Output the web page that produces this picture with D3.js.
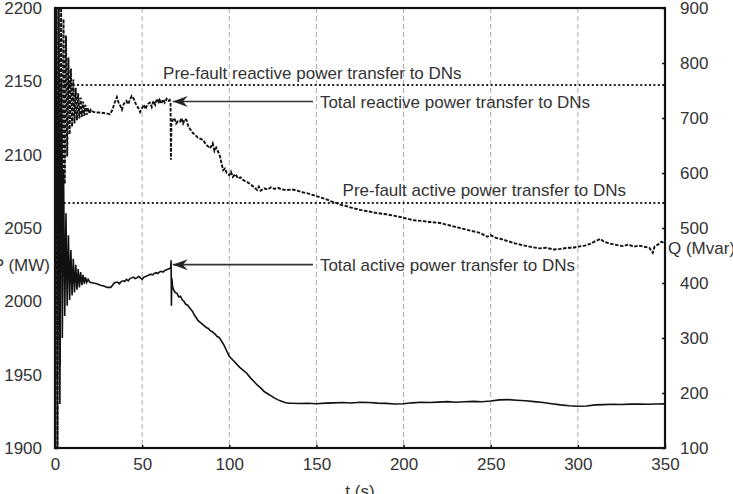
<!DOCTYPE html>
<html>
<head>
<meta charset="utf-8">
<script src="https://cdn.jsdelivr.net/npm/d3@7"></script>
<style>
  body { margin: 0; background: #fff; }
  svg { display: block; font-family: "Liberation Sans", Arial, sans-serif; }
</style>
</head>
<body>
<svg id="chart" width="733" height="494"></svg>
<script>
// time ticks and axis ticks
const tTicks = [0, 50, 100, 150, 200, 250, 300, 350];
const pTicks = [1900, 1950, 2000, 2050, 2100, 2150, 2200];
const qTicks = [100, 200, 300, 400, 500, 600, 700, 800, 900];

// pre-fault reference levels
const pPreFault = 2067;
const qPreFault = 760;

// total active power (MW)
const pTime = [0, 0.7, 1.4, 2.1, 2.8, 3.5, 4.2, 4.9, 5.6, 6.3, 7, 7.7, 8.4, 9.1, 9.8, 10.5, 11.2, 11.9, 12.6, 13.3,
  14, 14.7, 15.4, 16.1, 16.8, 17.5, 18.2, 19, 20, 22, 24, 26, 28, 30, 32, 33, 34, 35, 36, 37, 38, 39, 40, 41, 42, 43,
  44, 45, 46, 47, 48, 49, 50, 51, 52, 53, 54, 55, 56, 57, 58, 59, 60, 61, 62, 63, 64, 65, 66, 66.4, 66.6, 66.8, 67,
  67.5, 68, 69, 70, 71, 72, 73, 74, 75, 76, 77, 78, 79, 80, 81, 82, 83, 84, 85, 86, 87, 88, 89, 90, 91, 92, 93, 94,
  95, 96, 97, 98, 99, 100, 102, 104, 106, 108, 110, 112, 114, 116, 118, 120, 122, 124, 126, 128, 130, 132, 134, 136,
  140, 145, 150, 155, 160, 165, 170, 175, 180, 185, 190, 195, 200, 205, 210, 215, 220, 225, 230, 235, 240, 245, 250,
  255, 260, 265, 270, 275, 280, 285, 290, 295, 300, 305, 310, 315, 320, 325, 330, 335, 340, 345, 350];
const pValue = [2050, 2240, 1880, 2220, 1930, 2150, 1975, 2090, 1990, 2060, 1997, 2045, 2001, 2035, 2004, 2029, 2006,
  2025, 2008, 2022, 2009.5, 2020, 2011, 2018, 2012, 2016.5, 2013, 2015, 2013, 2012.5, 2012, 2011, 2010.5, 2009.5,
  2009.5, 2011, 2012.5, 2013, 2013, 2012, 2013.5, 2014, 2013.5, 2015, 2014, 2015.5, 2016, 2016.5, 2015.5, 2016, 2017,
  2016, 2015, 2016.5, 2017, 2017.5, 2018, 2018.5, 2018, 2019, 2019.5, 2019, 2020, 2020.5, 2020, 2021, 2021.5, 2022,
  2022.5, 2023, 2028, 1997, 2016, 2010, 2008, 2006, 2005.5, 2003, 2003.5, 2001, 2000, 1998, 1997.5, 1996, 1994.5,
  1993, 1990.5, 1989, 1987, 1986, 1985, 1984, 1983, 1982, 1981.5, 1980, 1979.5, 1978.5, 1977.5, 1976, 1975.5, 1974,
  1972, 1970, 1967.5, 1965, 1962.5, 1960, 1957.5, 1955, 1953, 1951, 1948, 1945.5, 1943, 1941, 1938.5, 1937, 1935.5,
  1934, 1932.8, 1931.8, 1931, 1930.5, 1930.5, 1930.3, 1930.5, 1930.2, 1930.6, 1930.8, 1931, 1930.7, 1931.2, 1931,
  1930.6, 1930.4, 1930, 1930.2, 1930.8, 1931.2, 1931, 1931.3, 1931.6, 1931.2, 1931.5, 1931.8, 1931.5, 1932, 1932.8,
  1933, 1932.6, 1932.2, 1931.6, 1931, 1930.2, 1929.4, 1928.8, 1928.5, 1928.6, 1929.4, 1929.6, 1929.8, 1929.7, 1929.9,
  1930, 1929.8, 1930, 1930.1];

// total reactive power (Mvar)
const qTime = [0, 0.7, 1.4, 2.1, 2.8, 3.5, 4.2, 4.9, 5.6, 6.3, 7, 7.7, 8.4, 9.1, 9.8, 10.5, 11.2, 11.9, 12.6, 13.3,
  14, 14.7, 15.4, 16.1, 16.8, 17.5, 18.2, 19, 19.8, 20.6, 22, 24, 26, 28, 30, 31.5, 33, 34, 35.5, 36.5, 37.5, 38.4,
  39.5, 41, 42, 43, 44, 45, 46, 47, 48, 48.8, 50, 51, 52, 53, 54.5, 55.5, 56.5, 57.5, 58.5, 59.5, 60, 61, 62, 63, 64,
  65, 65.8, 66.3, 66.5, 66.8, 67.5, 68.5, 69.5, 70.5, 71.7, 72.5, 73.5, 74.5, 75.5, 76.5, 77.5, 79, 80.5, 82, 83.5,
  85, 86.5, 88, 89, 90.5, 91.5, 92.5, 93.7, 94.7, 95.5, 96.5, 97.5, 98.5, 100, 101, 102, 103.5, 105, 106.5, 108, 110,
  112, 113.5, 115, 116, 117, 118, 120, 122, 124, 126, 128, 130, 133, 136, 139, 142, 145, 148, 152, 155, 158, 161, 164,
  167, 170, 175, 180, 185, 190, 195, 198, 202, 206, 210, 215, 221, 226, 231, 236, 240, 244, 248, 250, 253, 256, 260,
  264, 268, 271, 274, 278, 282, 286, 290, 294, 297, 300, 304, 307, 310, 313, 315, 318, 321, 324, 326, 329, 332, 335,
  338, 341, 343, 344, 346, 348, 350];
const qValue = [500, 920, 100, 920, 250, 910, 450, 880, 580, 850, 630, 810, 670, 790, 684, 770, 690, 755, 696, 745,
  699, 737, 702, 730, 704, 724, 706, 718, 708, 715, 711, 710, 710, 709, 708, 707, 715, 726, 738, 728, 722, 715, 726,
  731, 725, 733, 740, 736, 728, 722, 717, 711, 718, 724, 716, 725, 728, 720, 731, 724, 735, 729, 733, 726, 734, 728,
  735, 731, 733, 728, 624, 690, 696, 700, 690, 694, 693, 700, 690, 698, 696, 685, 680, 673, 669, 664, 662, 660, 652,
  648, 645, 654, 640, 646, 638, 630, 618, 605, 608, 600, 596, 602, 593, 598, 590, 592, 587, 584, 580, 576, 572, 569,
  575, 568, 572, 570, 574, 571, 573, 570, 569, 570, 568, 565, 563, 560, 556, 553, 549, 546, 542, 540, 537, 533, 530,
  527, 525, 522, 520, 517, 514, 513, 511, 509, 505, 501, 497, 494, 491, 484, 487, 482, 480, 476, 472, 469, 467, 465,
  463, 464, 461, 462, 464, 464, 466, 468, 471, 476, 480, 475, 472, 470, 468, 467, 470, 466, 468, 466, 464, 455, 466,
  470, 475, 472];

const svg = d3.select("#chart");
const margin = { top: 8, right: 68, bottom: 46, left: 55 };
const width = 733 - margin.left - margin.right;
const height = 494 - margin.top - margin.bottom;

const x = d3.scaleLinear().domain([0, 350]).range([0, width]);
const yP = d3.scaleLinear().domain([1900, 2200]).range([height, 0]);
const yQ = d3.scaleLinear().domain([100, 900]).range([height, 0]);

const g = svg.append("g").attr("transform", `translate(${margin.left},${margin.top})`);

const defs = svg.append("defs");
defs.append("clipPath").attr("id", "plotClip")
  .append("rect").attr("width", width).attr("height", height);

// arrowhead: tip at the end of the line, barbs trailing back
defs.append("marker")
  .attr("id", "arrowHead")
  .attr("viewBox", "-16 -6 17 12")
  .attr("refX", 0).attr("refY", 0)
  .attr("markerUnits", "userSpaceOnUse")
  .attr("markerWidth", 17).attr("markerHeight", 12)
  .attr("orient", "auto")
  .append("path").attr("d", "M0,0 L-15,-5.5 L-10,0 L-15,5.5 Z").attr("fill", "#222");

// vertical grid
g.append("g").selectAll("line")
  .data(tTicks.filter((d) => d > 0 && d < 350))
  .enter().append("line")
  .attr("x1", (d) => x(d)).attr("x2", (d) => x(d))
  .attr("y1", 0).attr("y2", height)
  .attr("stroke", "#aaa").attr("stroke-width", 1)
  .attr("stroke-dasharray", "5,3");

// pre-fault references
g.append("line")
  .attr("x1", 0).attr("x2", width)
  .attr("y1", yQ(qPreFault)).attr("y2", yQ(qPreFault))
  .attr("stroke", "#222").attr("stroke-width", 2).attr("stroke-dasharray", "2,2.4");
g.append("line")
  .attr("x1", 0).attr("x2", width)
  .attr("y1", yP(pPreFault)).attr("y2", yP(pPreFault))
  .attr("stroke", "#222").attr("stroke-width", 2).attr("stroke-dasharray", "2,2.4");

const plot = g.append("g").attr("clip-path", "url(#plotClip)");

const pData = pTime.map((t, i) => [t, pValue[i]]);
const qData = qTime.map((t, i) => [t, qValue[i]]);

plot.append("path")
  .datum(qData)
  .attr("fill", "none").attr("stroke", "#111").attr("stroke-width", 1.9)
  .attr("stroke-dasharray", "3.5,1.5")
  .attr("d", d3.line().x((d) => x(d[0])).y((d) => yQ(d[1])));

plot.append("path")
  .datum(pData)
  .attr("fill", "none").attr("stroke", "#111").attr("stroke-width", 1.6)
  .attr("d", d3.line().x((d) => x(d[0])).y((d) => yP(d[1])));

// axes
const fontSize = "17px";
const styleAxis = (sel) => {
  sel.select(".domain").remove();
  sel.selectAll(".tick line").attr("stroke", "#111").attr("stroke-width", 1.5);
  sel.selectAll(".tick text").attr("fill", "#333").style("font-size", fontSize)
    .style("font-family", "'Liberation Sans', Arial, sans-serif");
};

g.append("g")
  .call(d3.axisLeft(yP).tickValues(pTicks).tickFormat(d3.format("d")).tickSize(-3).tickPadding(13))
  .call(styleAxis);

g.append("g")
  .attr("transform", `translate(${width},0)`)
  .call(d3.axisRight(yQ).tickValues(qTicks).tickFormat(d3.format("d")).tickSize(-3).tickPadding(15))
  .call(styleAxis);

g.append("g")
  .attr("transform", `translate(0,${height})`)
  .call(d3.axisBottom(x).tickValues(tTicks).tickFormat(d3.format("d")).tickSize(-3).tickPadding(10))
  .call(styleAxis);

// frame
g.append("rect")
  .attr("width", width).attr("height", height)
  .attr("fill", "none").attr("stroke", "#111").attr("stroke-width", 2.2);

// axis titles
const label = (txt, px, py, anchor) => svg.append("text")
  .attr("x", px).attr("y", py).attr("text-anchor", anchor)
  .attr("fill", "#333").style("font-size", fontSize).text(txt);

label("P (MW)", 50, 271, "end");
label("Q (Mvar)", 668, 254, "start");
label("t (s)", margin.left + width / 2, 497, "middle");

// reference labels
g.append("text")
  .attr("x", x(62)).attr("y", yQ(qPreFault) - 6)
  .attr("fill", "#333").style("font-size", fontSize)
  .text("Pre-fault reactive power transfer to DNs");
g.append("text")
  .attr("x", x(165)).attr("y", yP(pPreFault) - 7)
  .attr("fill", "#333").style("font-size", fontSize)
  .text("Pre-fault active power transfer to DNs");

// annotation arrows
const notes = [
  { text: "Total reactive power transfer to DNs", yv: yQ(730) },
  { text: "Total active power transfer to DNs", yv: yP(2025) },
];
notes.forEach((n) => {
  g.append("line")
    .attr("x1", x(148)).attr("x2", x(67.6))
    .attr("y1", n.yv).attr("y2", n.yv)
    .attr("stroke", "#333").attr("stroke-width", 1.6)
    .attr("marker-end", "url(#arrowHead)");
  g.append("text")
    .attr("x", x(152)).attr("y", n.yv + 6)
    .attr("fill", "#333").style("font-size", fontSize)
    .text(n.text);
});
</script>
</body>
</html>
